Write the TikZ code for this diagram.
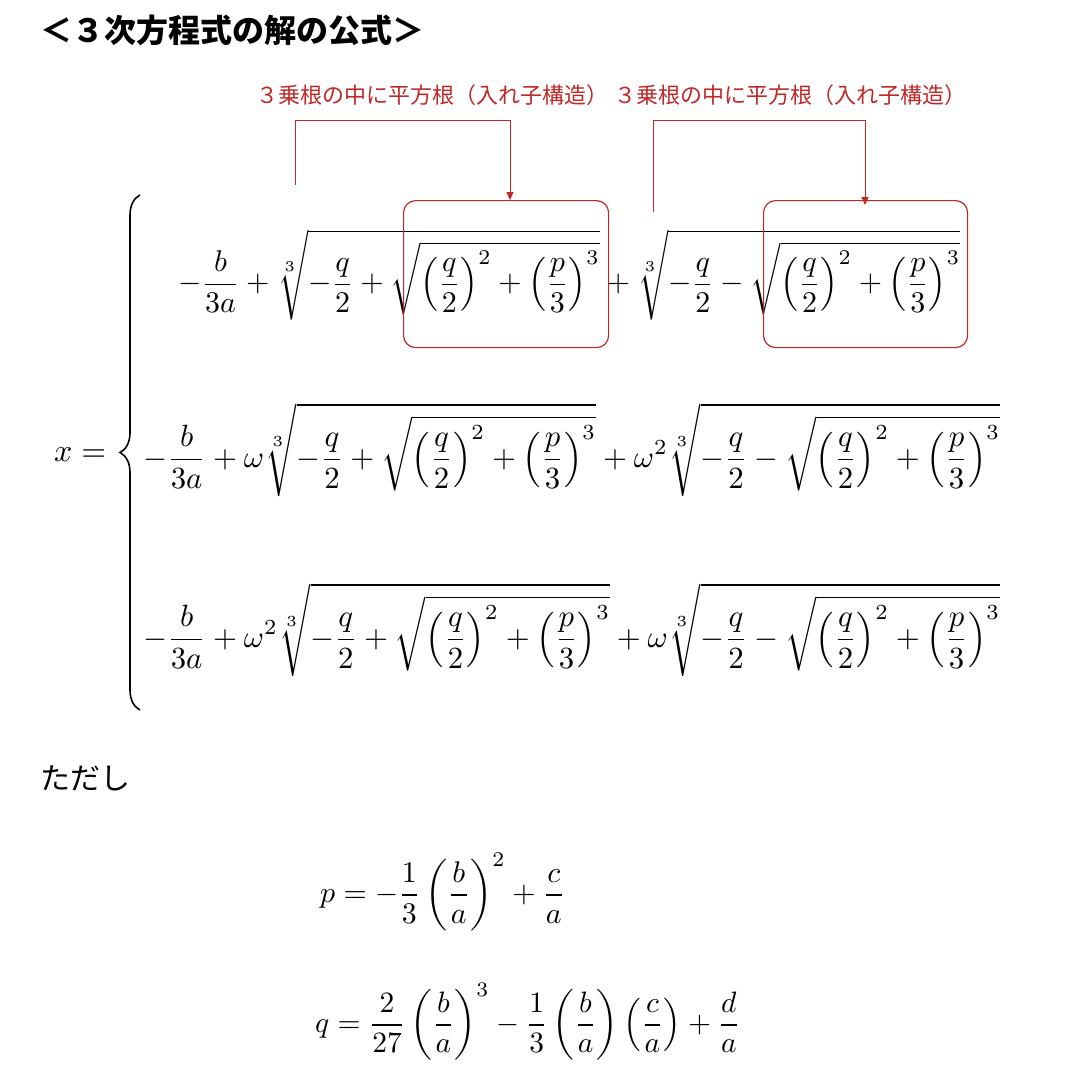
\documentclass[tikz,border=0pt]{standalone}
\usepackage{amsmath}
\usepackage{graphicx}
\usepackage{fontspec}
\newfontfamily\jp{Noto Sans CJK JP}
\usetikzlibrary{decorations.pathreplacing,arrows.meta}
\definecolor{redc}{RGB}{192,40,40}
\newcommand{\rt}[1]{\sqrt{\left(\frac{q}{2}\right)^{2}+\left(\frac{p}{3}\right)^{3}}}
\newcommand{\fitbox}[2]{\resizebox{#1pt}{!}{$\displaystyle #2$}}
\begin{document}
\begin{tikzpicture}[x=1pt,y=-1pt,
  mathrow/.style={anchor=west,inner sep=0pt},
  redlab/.style={anchor=west,inner sep=0pt,text=redc,font=\jp\fontsize{22}{24}\selectfont},
  redline/.style={draw=redc,line width=1pt},
  redbox/.style={draw=redc,line width=1.2pt,rounded corners=12pt}]
\useasboundingbox[fill=white] (0,0) rectangle (1072,1072);
\node[anchor=west,inner sep=0pt,font=\jp\bfseries\fontsize{32}{36}\selectfont] (title) at (40,30) {＜３次方程式の解の公式＞};
\node[redlab] (lab1) at (256,95) {３乗根の中に平方根（入れ子構造）};
\node[redlab] (lab2) at (614,95) {３乗根の中に平方根（入れ子構造）};
\node[mathrow] (xeq) at (54,455) {\fitbox{52}{x=}};
\draw[decorate,decoration={brace,amplitude=20pt},line width=1.6pt] (140,710) -- (140,195);
\node[mathrow] (r1) at (178,275) {\fitbox{782}{-\frac{b}{3a}+\sqrt[3]{-\frac{q}{2}+\rt{}}+\sqrt[3]{-\frac{q}{2}-\rt{}}}};
\node[mathrow] (r2) at (143,450) {\fitbox{857}{-\frac{b}{3a}+\omega\sqrt[3]{-\frac{q}{2}+\rt{}}+\omega^{2}\sqrt[3]{-\frac{q}{2}-\rt{}}}};
\node[mathrow] (r3) at (143,630) {\fitbox{857}{-\frac{b}{3a}+\omega^{2}\sqrt[3]{-\frac{q}{2}+\rt{}}+\omega\sqrt[3]{-\frac{q}{2}-\rt{}}}};
\node[anchor=west,inner sep=0pt,font=\jp\fontsize{30}{34}\selectfont] (tada) at (40,778) {ただし};
\node[mathrow] (p) at (320,892) {\fitbox{245}{p=-\frac{1}{3}\left(\frac{b}{a}\right)^{2}+\frac{c}{a}}};
\node[mathrow] (q) at (315,1022) {\fitbox{425}{q=\frac{2}{27}\left(\frac{b}{a}\right)^{3}-\frac{1}{3}\left(\frac{b}{a}\right)\left(\frac{c}{a}\right)+\frac{d}{a}}};
\node[redbox,minimum width=205pt,minimum height=147pt,anchor=north west] (box1) at (403,200) {};
\node[redbox,minimum width=204pt,minimum height=147pt,anchor=north west] (box2) at (763,200) {};
\coordinate (s1) at (295,185); \coordinate (t1) at (510,200);
\coordinate (s2) at (653,212); \coordinate (t2) at (865,205);
\draw[redline,-{Triangle[length=8pt,width=7pt]}] (s1) |- (510,120) -- (t1);
\draw[redline,-{Triangle[length=8pt,width=7pt]}] (s2) |- (865,120) -- (t2);
\end{tikzpicture}
\end{document}
